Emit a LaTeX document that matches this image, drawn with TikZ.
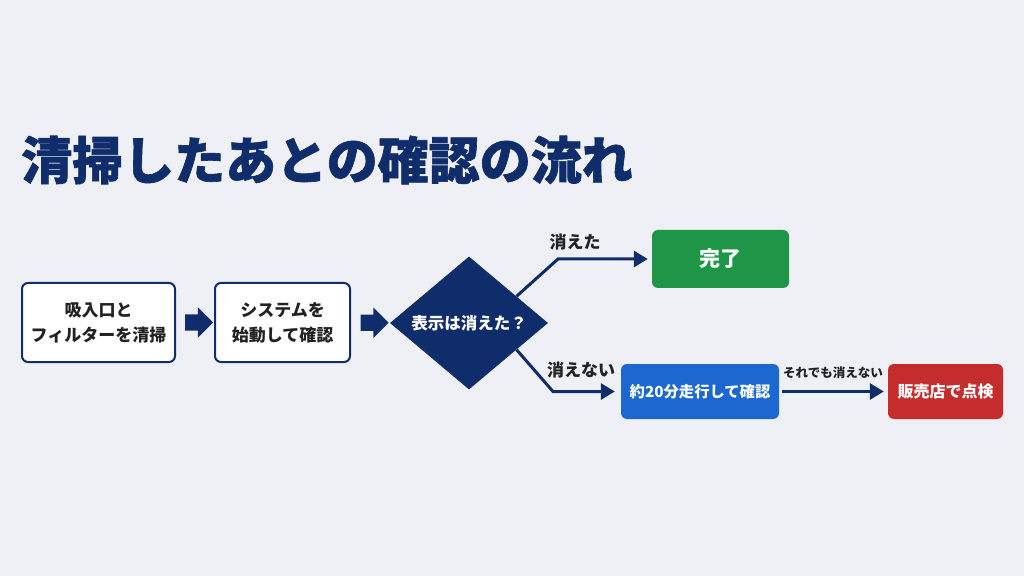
\documentclass[tikz,border=0pt]{standalone}
\usepackage{fontspec}
\setmainfont{Noto Sans CJK JP}
\newfontfamily\headfont{Noto Sans CJK JP}[BoldFeatures={FakeBold=1.2}]
\usetikzlibrary{shapes.geometric, shapes.arrows, arrows.meta, positioning, calc}
\definecolor{navy}{HTML}{0F2D6B}
\definecolor{bgcol}{HTML}{EEF0F5}
\definecolor{txtcol}{HTML}{222222}
\definecolor{okgreen}{HTML}{1F9647}
\definecolor{runblue}{HTML}{1A68D0}
\definecolor{shopred}{HTML}{C52D2D}
\tikzset{
  stepbox/.style = {rectangle, draw=navy, line width=2pt, fill=white,
    rounded corners=6pt, align=center, text=txtcol, inner sep=0pt,
    font=\fontsize{17}{25}\selectfont\bfseries},
  endbox/.style = {rectangle, rounded corners=6pt, align=center, text=white,
    inner sep=0pt, font=\fontsize{16}{20}\selectfont\bfseries},
  blockarrow/.style = {single arrow, fill=navy, inner xsep=0pt, inner ysep=8pt,
    minimum height=28pt, single arrow head extend=7pt},
  flow/.style = {navy, line width=3pt, -{Triangle[length=14pt,width=16pt]}},
  lbl/.style = {text=txtcol, inner sep=0pt, font=\fontsize{17}{20}\selectfont\bfseries},
}

\begin{document}
\begin{tikzpicture}[x=1pt, y=1pt]

  \fill[bgcol] (0,0) rectangle (1024,576);
  \useasboundingbox (0,0) rectangle (1024,576);

  % Title
  \node[anchor=west, inner sep=0pt, text=navy, font=\headfont\fontsize{51}{51}\selectfont\bfseries]
    (title) at (21,416) {清掃したあとの確認の流れ};

  % Steps
  \node[stepbox, minimum width=153pt, minimum height=79pt] (clean) at (98.5,253.5)
    {吸入口と\\フィルターを清掃};
  \node[stepbox, minimum width=135pt, minimum height=79pt] (start) at (282.5,253.5)
    {システムを\\始動して確認};
  \node[blockarrow] (a1) at ($(clean.east)!0.5!(start.west)$) {};

  % Decision
  \node[diamond, fill=navy, text=white, inner sep=0pt, minimum width=158pt,
    minimum height=133pt, font=\fontsize{16.5}{20}\selectfont\bfseries]
    (check) at (469,253) {表示は消えた？};
  \node[blockarrow] (a2) at ($(start.east)!0.5!(check.west)$) {};

  % Results
  \node[endbox, fill=okgreen, minimum width=137pt, minimum height=58pt,
    font=\fontsize{21}{24}\selectfont\bfseries] (done) at (720.5,317) {完了};
  \node[endbox, fill=runblue, minimum width=158pt, minimum height=55pt,
    font=\fontsize{15.3}{20}\selectfont\bfseries] (run) at (700,184.5) {約20分走行して確認};
  \node[endbox, fill=shopred, minimum width=115pt, minimum height=55pt]
    (shop) at (945.5,184.5) {販売店で点検};

  % Connectors
  \coordinate (upbend) at (558,317);
  \coordinate (lowbend) at (553,184.5);
  \draw[flow, shorten >=4pt] ($(check.north)!0.6!(check.east)$) -- (upbend) -- (done.west);
  \draw[flow, shorten >=6pt] ($(check.south)!0.6!(check.east)$) -- (lowbend) -- (run.west);
  \draw[flow, shorten >=4pt, shorten <=3pt] (run.east) -- (shop.west);

  % Labels
  \node[lbl] (yes) at (575,334) {消えた};
  \node[lbl] (no) at (581,206) {消えない};
  \node[lbl, font=\fontsize{12.5}{16}\selectfont\bfseries] (still) at (833,203) {それでも消えない};

\end{tikzpicture}
\end{document}
